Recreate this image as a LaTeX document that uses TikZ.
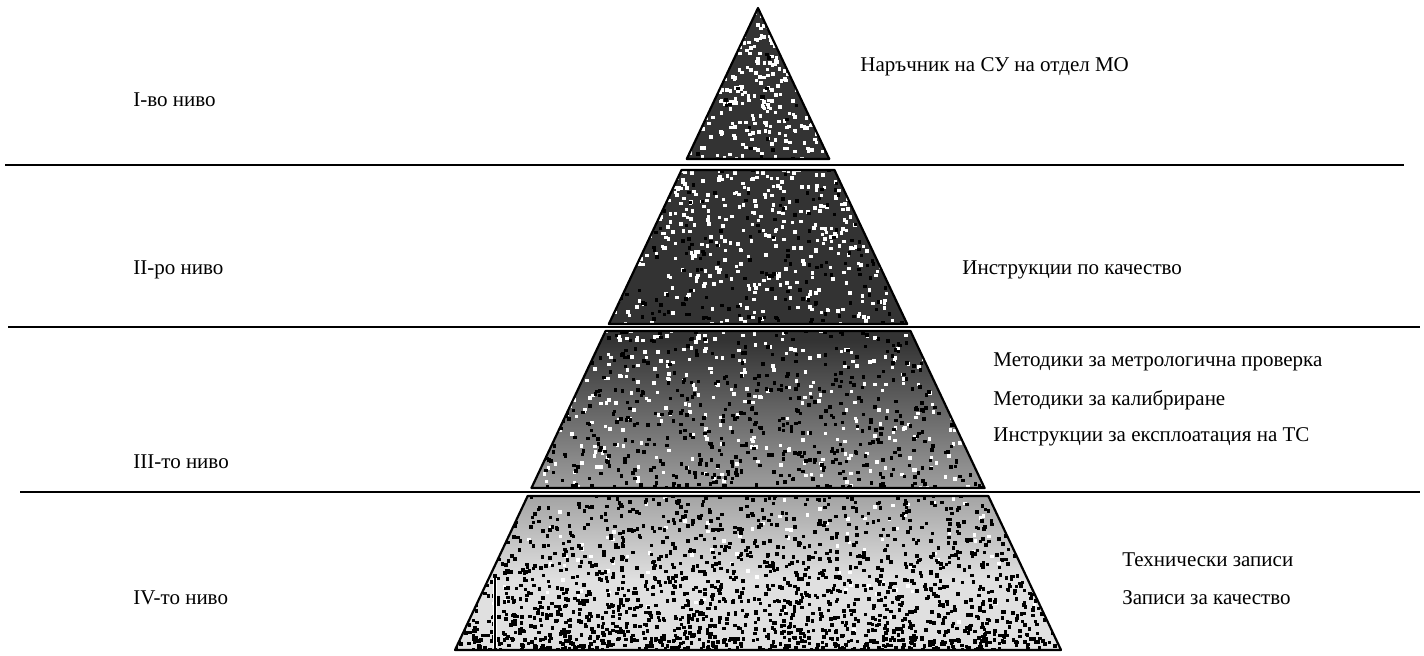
\documentclass[tikz,border=0pt]{standalone}
\usepackage{fontspec}
\setmainfont{Liberation Serif}
\usetikzlibrary{calc}

\tikzset{
  lvllabel/.style={anchor=west, inner sep=0pt, font=\fontsize{10.5}{12}\selectfont},
  doclabel/.style={anchor=west, inner sep=0pt, font=\fontsize{10.5}{12}\selectfont},
  tieredge/.style={draw=black, line width=1.1pt, line join=round},
  rule/.style={draw=black, line width=1.2pt}
}

\begin{document}
\begin{tikzpicture}[x=0.5pt, y=-0.5pt]
      \useasboundingbox (0,0) rectangle (1424,655);
      \pgfmathsetseed{4711}

      \coordinate (apex) at (758,8);
      \coordinate (bl) at (455,650);
      \coordinate (br) at (1061,650);

      % stippled body of the pyramid
      \begin{scope}
        \clip (apex) -- (bl) -- (br) -- cycle;
        \fill[black!80] (440,0) rectangle (1080,340);
        \shade[top color=black!80, bottom color=black!12] (440,340) rectangle (1080,580);
        \fill[black!12] (440,580) rectangle (1080,655);
        % white specks, mostly in the upper part
        \foreach \i in {1,...,4000} {
          \pgfmathsetmacro{\px}{440+rnd*640}
          \pgfmathsetmacro{\py}{8+642*rnd*rnd}
          \fill[white] (\px,\py) rectangle ++(3.5,3.5);
        }
        % black specks, mostly in the lower part
        \foreach \i in {1,...,3500} {
          \pgfmathsetmacro{\px}{440+rnd*640}
          \pgfmathsetmacro{\py}{650-642*rnd*rnd}
          \fill[black] (\px,\py) rectangle ++(3.5,3.5);
        }
      \end{scope}

      % gaps between the tiers
      \fill[white] (0,159) rectangle (1424,170);
      \fill[white] (0,324) rectangle (1424,331);
      \fill[white] (0,488) rectangle (1424,496);

      \foreach \ta/\tb in {0/0.2352, 0.2523/0.4922, 0.5031/0.7477, 0.7601/1}
        \draw[tieredge] ($(apex)!\ta!(bl)$) -- ($(apex)!\tb!(bl)$) -- ($(apex)!\tb!(br)$) -- ($(apex)!\ta!(br)$) -- cycle;

      \draw[white, line width=2pt] (495,578) -- (495,648);
      \draw[black, line width=0.6pt] (495,578) -- (495,648);

      % level rules
      \coordinate (r1a) at (5,165);   \coordinate (r1b) at (1404,165);
      \coordinate (r2a) at (8,327);   \coordinate (r2b) at (1420,327);
      \coordinate (r3a) at (20,492);  \coordinate (r3b) at (1420,492);
      \draw[rule] (r1a) -- (r1b);
      \draw[rule] (r2a) -- (r2b);
      \draw[rule] (r3a) -- (r3b);

      % levels
      \node[lvllabel] (lvl1) at (133,100) {I-во ниво};
      \node[lvllabel] (lvl2) at (133,270) {II-ро ниво};
      \node[lvllabel] (lvl3) at (133,462) {III-то ниво};
      \node[lvllabel] (lvl4) at (133,598) {IV-то ниво};

      % documents
      \node[doclabel] (man) at (860,67) {Наръчник на СУ на отдел МО};
      \node[doclabel] (ins) at (962,270) {Инструкции по качество};
      \node[doclabel] (met) at (993,362) {Методики за метрологична проверка};
      \node[doclabel] (cal) at (993,400) {Методики за калибриране};
      \node[doclabel] (exp) at (993,437) {Инструкции за експлоатация на ТС};
      \node[doclabel] (tec) at (1122,560) {Технически записи};
      \node[doclabel] (rec) at (1122,598) {Записи за качество};
\end{tikzpicture}
\end{document}
